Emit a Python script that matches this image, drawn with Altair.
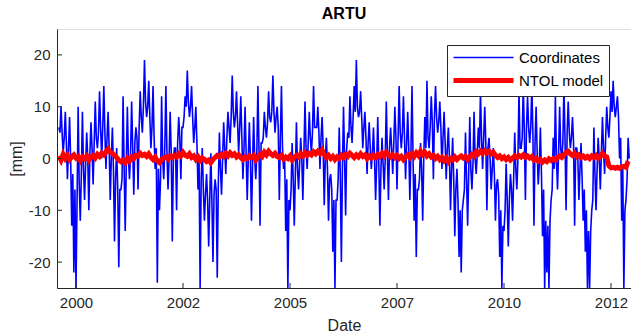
import altair as alt
import pandas as pd

# ---- data ----
start_year = 1999.60
step = 0.05

# spike values of the station coordinates (one every 0.05 yr)
coords = [
    6, 10, 1, 9, -4, 8, -13, -22, -25, 10,
    -12, 9, -8, 5, -10, 7, -5, 11, 2, 13,
    0, 14, -2, 9, -8, 6, -16, 2, -21, -6,
    12, -14, 10, -4, 11, -7, 6, -6, 13, 5,
    19, 8, 15, 2, 14, -2, -24, -10, 12, -4,
    14, -6, 9, -16, 2, -10, 8, -4, 6, 12,
    17, 8, 14, 3, 10, -6, -25, 2, -12, -3,
    -17, 1, -20, -4, -23, 5, -7, 7, -3, 9,
    3, 16, 6, 13, 1, 12, -4, 10, -8, 7,
    -12, 8, -4, 14, -13, 3, 9, 4, 13, 7,
    16, 5, 10, -8, 14, -2, -14, -25, -10, 3,
    -13, 7, -6, 4, -8, 11, -2, 9, 1, 14,
    6, 10, -2, 8, -9, 4, -12, -3, -18, -25,
    -8, 6, -20, 10, -11, 5, 12, 3, 14, 19,
    8, 13, 2, 9, -3, 7, -2, 6, -8, 8,
    -13, 4, -6, 11, -8, 6, -3, 10, -6, 14,
    2, 12, -4, 9, -8, 14, -12, -19, -6, 3,
    -12, 8, 15, 2, 12, -4, 14, 5, 11, -2,
    9, -4, 6, -10, 4, -15, -2, -19, -22, -8,
    5, -13, 8, -6, 9, -3, 6, 13, -2, 10,
    -10, 4, -6, 2, -12, -4, -19, -25, -14, -1,
    -17, -3, -12, 5, -6, 13, 2, 14, -8, 12,
    3, 14, -13, 10, -5, 6, -15, -25, -22, -25,
    -8, 4, 12, -6, 10, 0, 14, -10, 11, 2,
    8, -13, 2, -8, 3, -12, -18, -25, -25, -10,
    6, -10, 4, -6, 8, -3, 10, 4, 13, 15,
    8, 12, 0, -12, -25, -8, 4,
]

# centre of the blue band, read between the spikes (offset by half a step)
coords_core = [
    5, 5, 4, 3, 2, 0, -3, -6, -8, -5,
    -3, -2, -1, 0, 1, 2, 3, 4, 5, 6,
    6, 5, 4, 2, 0, -2, -4, -6, -6, -4,
    -2, -1, 0, 1, 2, 3, 4, 6, 8, 10,
    11, 10, 8, 6, 4, 2, -2, -4, 0, 2,
    1, 0, 1, 0, 2, 3, 4, 6, 8, 10,
    11, 10, 8, 6, 3, 0, -4, -6, -7, -8,
    -8, -8, -7, -6, -5, -2, 0, 2, 4, 6,
    8, 9, 8, 7, 6, 4, 2, 1, 0, 0,
    -1, 0, 1, 2, 3, 4, 6, 7, 8, 9,
    9, 8, 6, 4, 2, 0, -4, -8, -6, -4,
    -3, -2, -1, 0, 1, 2, 3, 4, 5, 6,
    6, 5, 4, 2, 0, -2, -4, -6, -8, -8,
    -4, -3, -2, 0, 2, 4, 6, 8, 9, 10,
    9, 8, 6, 4, 3, 2, 1, 0, -1, -1,
    -2, -1, 0, 1, 2, 2, 3, 4, 4, 5,
    5, 4, 3, 2, 1, 0, -3, -6, -4, -2,
    0, 2, 4, 6, 7, 8, 8, 7, 6, 4,
    3, 2, 0, -2, -4, -6, -8, -10, -10, -6,
    -4, -3, -2, -1, 0, 1, 2, 4, 4, 3,
    2, 0, -2, -3, -5, -7, -10, -13, -10, -8,
    -8, -6, -4, -2, 0, 2, 4, 5, 6, 6,
    6, 5, 3, 1, -1, -3, -6, -12, -13, -12,
    -6, -2, 0, 1, 2, 3, 4, 5, 5, 4,
    3, 2, 0, -2, -4, -6, -10, -14, -14, -8,
    -3, -2, 0, 1, 2, 4, 6, 8, 9, 10,
    10, 8, 4, -2, -10, -4, 0,
]

ntol = [
    0.5, -0.3, 0.8, 0.0, 0.6, -0.2, 0.3, 0.7, 0.1, 0.4,
    -0.4, 0.3, 0.0, 0.5, -0.3, 0.2, 0.6, 0.1, 0.8, 0.4,
    1.0, 0.7, 1.3, 1.8, 1.2, 1.0, 0.6, 0.2, -0.3, -0.6,
    -0.3, -0.8, 0.0, -0.5, 0.3, 0.0, 0.6, 0.4, 1.0, 0.6,
    0.8, 0.4, 0.9, 0.2, -0.2, 0.3, -0.5, -0.8, -0.2, 0.1,
    0.3, -0.1, 0.5, 0.2, 0.6, 0.3, 0.9, 0.5, 1.2, 0.6,
    0.4, 0.9, 0.2, 0.5, -0.2, 0.3, -0.4, 0.1, -0.2, -0.6,
    -0.3, -0.8, -0.2, 0.2, 0.6, 0.3, 0.8, 0.4, 1.0, 0.5,
    1.1, 0.6, 0.9, 0.3, 0.7, 0.2, -0.2, 0.3, 0.0, 0.5,
    0.2, 0.6, -0.3, 0.3, 0.8, 0.4, 1.2, 0.7, 1.4, 0.9,
    0.6, 1.0, 0.4, 0.2, 0.6, -0.1, 0.3, 0.0, 0.5, -0.3,
    0.2, 0.6, 0.3, 0.9, 0.5, 1.1, 0.6, 1.0, 0.7, 1.3,
    0.9, 1.4, 1.0, 1.6, 0.8, 0.2, 0.6, 0.0, 0.4, -0.2,
    0.3, 0.0, 0.6, 0.2, 0.8, 0.4, 1.0, 0.6, 0.2, 0.7,
    0.3, 0.9, 0.4, 0.7, 0.0, 0.5, 0.1, 0.6, 0.2, 0.8,
    0.4, 1.0, 0.5, 1.2, 0.8, 0.3, 0.7, 0.2, 0.6, 0.0,
    0.4, -0.2, 0.3, 0.7, 0.2, 0.9, 0.4, 1.1, 0.6, 1.4,
    0.8, 1.2, 0.5, 0.9, 0.3, 0.6, 0.0, 0.4, -0.2, 0.2,
    -0.4, 0.1, -0.6, 0.0, -0.3, 0.3, -0.2, 0.2, 0.5, 0.1,
    0.4, -0.2, 0.3, 0.8, 0.5, 1.3, 0.9, 1.4, 1.0, 1.5,
    1.1, 1.4, 0.9, 1.2, 0.6, 0.2, 0.5, 0.0, 0.3, -0.2,
    0.2, -0.3, 0.1, 0.5, 0.2, 0.6, 0.3, 0.7, 0.2, 0.5,
    0.1, 0.4, -0.3, 0.0, -0.5, -0.2, -0.7, -0.3, -0.6, -0.1,
    -0.4, 0.0, -0.3, 0.2, 0.5, 0.2, 0.7, 1.2, 1.4, 0.9,
    0.6, 1.0, 0.4, 0.7, 0.2, 0.5, 0.1, 0.4, 0.0, 0.5,
    0.2, 0.6, 0.1, 0.4, 1.0, 0.5, 0.3, -1.4, -1.8, -1.7,
    -1.9, -1.7, -1.9, -1.6, -1.5, -1.7, -0.5,
]

series_names = ["Coordinates", "NTOL model"]
x_ticks = [2000.0, 2002.5, 2005.0, 2007.5, 2010.0, 2012.5]
y_ticks = [-20, -10, 0, 10, 20]

# ---- build tables ----
df_c = pd.concat([
    pd.DataFrame({"year": [start_year + step * i for i in range(len(coords))], "value": coords}),
    pd.DataFrame({"year": [start_year + step * (i + 0.5) for i in range(len(coords_core))], "value": coords_core}),
]).sort_values("year")
df_c["series"] = series_names[0]
df_n = pd.DataFrame({
    "year": [start_year + step * i for i in range(len(ntol))],
    "value": ntol,
    "series": series_names[1],
})
df_xt = pd.DataFrame({"t": x_ticks})
df_yt = pd.DataFrame({"t": y_ticks})

W, H = 574, 259
FONT = "Liberation Sans"
AX = "#262626"

xscale = alt.Scale(domain=[1999.556, 2012.967], nice=False, zero=False)
yscale = alt.Scale(domain=[-25, 25], nice=False, zero=False)

color = alt.Color(
    "series:N",
    scale=alt.Scale(domain=series_names, range=["#0000ff", "#ff0000"]),
    legend=alt.Legend(
        title=None,
        orient="none",
        legendX=390,
        legendY=16,
        symbolType="M-6,0H6",
        symbolSize=100,
        symbolOffset=24,
        labelOffset=28,
        labelFont=FONT,
        labelFontSize=15,
        labelColor="#000000",
        fillColor="white",
        strokeColor=AX,
        padding=5,
        rowPadding=4,
        cornerRadius=0,
    ),
)
swidth = alt.StrokeWidth(
    "series:N",
    scale=alt.Scale(domain=series_names, range=[1.6, 5]),
    legend=None,
)

xaxis = alt.Axis(
    title="Date",
    values=x_ticks,
    labelExpr="toString(floor(datum.value))",
    ticks=False,
    grid=False,
    domainColor=AX,
    labelColor=AX,
    titleColor=AX,
    labelFont=FONT,
    titleFont=FONT,
    labelFontSize=15,
    titleFontSize=16,
    titleFontWeight="normal",
    labelPadding=7,
    titlePadding=7,
    labelFlush=False,
)
yaxis = alt.Axis(
    title="[mm]",
    values=y_ticks,
    labelExpr="toString(datum.value)",
    ticks=False,
    grid=False,
    domainColor=AX,
    labelColor=AX,
    titleColor=AX,
    labelFont=FONT,
    titleFont=FONT,
    labelFontSize=15,
    titleFontSize=16,
    titleFontWeight="normal",
    labelPadding=7,
    titlePadding=4,
)

blue = alt.Chart(df_c).mark_line(clip=True).encode(
    x=alt.X("year:Q", scale=xscale, axis=xaxis),
    y=alt.Y("value:Q", scale=yscale, axis=yaxis),
    order="year:Q",
    color=color,
    strokeWidth=swidth,
)
red = alt.Chart(df_n).mark_line(clip=True).encode(
    x=alt.X("year:Q", scale=xscale),
    y=alt.Y("value:Q", scale=yscale),
    color=color,
    strokeWidth=swidth,
)
xt = alt.Chart(df_xt).mark_rule(color=AX, strokeWidth=1).encode(
    x=alt.X("t:Q", scale=xscale),
    y=alt.value(H),
    y2=alt.value(H - 5),
)
yt = alt.Chart(df_yt).mark_rule(color=AX, strokeWidth=1).encode(
    y=alt.Y("t:Q", scale=yscale),
    x=alt.value(0),
    x2=alt.value(5),
)

chart = (
    alt.layer(blue, red, xt, yt)
    .properties(
        width=W,
        height=H,
        title=alt.TitleParams(
            "ARTU", font=FONT, fontSize=16, fontWeight="bold", color="#000000",
            anchor="middle", offset=7,
        ),
        autosize=alt.AutoSizeParams(type="none"),
        padding={"left": 57, "top": 29, "right": 0, "bottom": 45},
    )
    .configure_view(stroke=None)
    .configure(background="white")
)

chart.save("out.html", embed_options={"renderer": "svg", "actions": False})
